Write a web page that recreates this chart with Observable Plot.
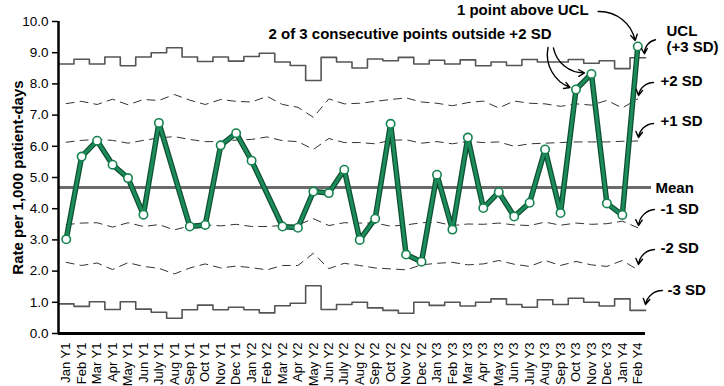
<!DOCTYPE html>
<html><head><meta charset="utf-8">
<script src="https://cdn.jsdelivr.net/npm/d3@7"></script>
<script src="https://cdn.jsdelivr.net/npm/@observablehq/plot@0.6"></script>
<style>body{margin:0;background:#fff} #chart{width:724px;height:386px}</style>
</head><body><div id="chart"></div>
<script>
const months = ["Jan Y1","Feb Y1","Mar Y1","Apr Y1","May Y1","Jun Y1","July Y1","Aug Y1","Sep Y1","Oct Y1","Nov Y1","Dec Y1",
  "Jan Y2","Feb Y2","Mar Y2","Apr Y2","May Y2","Jun Y2","July Y2","Aug Y2","Sep Y2","Oct Y2","Nov Y2","Dec Y2",
  "Jan Y3","Feb Y3","Mar Y3","Apr Y3","May Y3","Jun Y3","July Y3","Aug Y3","Sep Y3","Oct Y3","Nov Y3","Dec Y3",
  "Jan Y4","Feb Y4"];
const rate = [3.02,5.67,6.18,5.41,4.98,3.81,6.75,null,3.43,3.48,6.03,6.42,
  5.54,null,3.43,3.39,4.55,4.50,5.25,3.00,3.68,6.72,2.53,2.30,
  5.09,3.33,6.28,4.02,4.53,3.75,4.19,5.90,3.86,7.82,8.32,4.17,
  3.80,9.20];
const ucl = [8.64,8.79,8.64,8.86,8.58,8.86,9.00,9.16,8.86,8.72,8.86,8.73,
  8.88,8.98,8.70,8.59,8.11,8.85,8.70,8.51,8.80,8.74,8.85,8.64,
  8.76,8.64,8.77,8.58,8.70,8.59,8.78,8.70,8.70,8.78,8.66,8.74,
  8.49,8.84];
const plus2 = [7.37,7.44,7.34,7.51,7.33,7.50,7.47,7.66,7.48,7.34,7.50,7.44,
  7.42,7.60,7.34,7.25,6.93,7.52,7.36,7.38,7.44,7.50,7.55,7.42,
  7.38,7.30,7.40,7.45,7.23,7.45,7.38,7.36,7.28,7.36,7.32,7.47,
  7.23,7.52];
const plus1 = [6.13,6.19,6.22,6.19,6.10,6.19,6.27,6.31,6.22,6.15,6.15,6.20,
  6.22,6.30,6.18,6.15,5.90,6.25,6.12,6.12,6.08,6.19,6.21,6.10,
  6.15,6.08,6.16,6.12,6.14,6.00,6.08,6.10,6.12,6.14,6.14,6.14,
  6.16,6.17];
const minus1 = [3.49,3.54,3.55,3.41,3.55,3.43,3.49,3.32,3.45,3.48,3.45,3.50,
  3.43,3.43,3.46,3.48,3.68,3.46,3.55,3.54,3.54,3.44,3.48,3.55,
  3.57,3.46,3.51,3.50,3.54,3.48,3.46,3.57,3.47,3.54,3.50,3.52,
  3.60,3.39];
const minus2 = [2.28,2.18,2.26,2.05,2.27,2.15,2.09,1.91,2.10,2.23,2.10,2.16,
  2.11,2.04,2.18,2.18,2.57,2.08,2.25,2.18,2.10,2.07,2.04,2.20,
  2.25,2.28,2.20,2.23,2.34,2.22,2.15,2.34,2.18,2.31,2.20,2.15,
  2.34,2.04];
const lcl = [0.95,0.87,1.02,0.77,1.02,0.78,0.68,0.49,0.76,0.91,0.76,0.84,
  0.76,0.66,0.89,0.97,1.53,0.77,0.93,1.00,0.82,0.74,0.65,1.00,
  0.90,1.00,0.88,1.00,1.11,0.93,0.84,1.08,0.93,1.13,1.00,0.88,
  1.11,0.74];
const mean = 4.68;
const yTicks = [0,1,2,3,4,5,6,7,8,9,10];

// layout
const W = 724, H = 386, mL = 58, mR = 79, mT = 21, mB = 53;
const n = months.length;
const kx = (W - mL - mR) / n, ky = (H - mT - mB) / 10;
const last = n - 1;
// convert a pixel offset from an anchor (in data space) to data coordinates
const ox = (x, px) => x + px / kx;
const oy = (y, py) => y - py / ky;

const pts = rate.map((v, i) => ({i, v})).filter(d => d.v != null);
const steps = arr => arr.flatMap((v, i) => [{x: i - 0.5, y: v}, {x: i + 0.5, y: v}]);
const seq = arr => arr.map((v, i) => ({x: i, y: v}));

// side labels anchored to end of each line (x = right edge)
const edge = last + 0.5;
const side = [
  {t: "UCL\n(+3 SD)", v: ucl[last], tx: 21, ty: -19, a: [10, -18, -1, -4]},
  {t: "+2 SD", v: plus2[last], tx: 15, ty: -18.4, a: [8, -16.4, -7, -3.4]},
  {t: "+1 SD", v: plus1[last], tx: 15, ty: -19.8, a: [8, -17.5, -7, -3.5]},
  {t: "Mean", v: mean, tx: 10, ty: 0, a: null},
  {t: "-1 SD", v: minus1[last], tx: 15, ty: -19.2, a: [9, -18.2, -7, -2.2]},
  {t: "-2 SD", v: minus2[last], tx: 15, ty: -21.7, a: [9, -20.4, -7, -5.4]},
  {t: "-3 SD", v: lcl[last], tx: 22, ty: -20.9, a: [17, -19.9, 0, -5.9]}
];
const sideText = side.map(d => ({x: ox(edge, d.tx), y: oy(d.v, d.ty), t: d.t}));
const sideArrows = side.filter(d => d.a).map(d => ({
  x1: ox(edge, d.a[0]), y1: oy(d.v, d.a[1]), x2: ox(edge, d.a[2]), y2: oy(d.v, d.a[3])}));

// top notes anchored to the flagged points
const iUCL = last, i2a = 33, i2b = 34;
const noteText = [
  {x: ox(iUCL, -115), y: oy(rate[iUCL], -36), t: "1 point above UCL"},
  {x: ox(i2a, -166), y: oy(rate[i2a], -55.5), t: "2 of 3 consecutive points outside +2 SD"}
];
const noteArrowsPos = [
  {x1: ox(iUCL, -39.6), y1: oy(rate[iUCL], -35), x2: ox(iUCL, -2.6), y2: oy(rate[iUCL], -6)}
];
const noteArrowsNeg = [
  {x1: ox(i2a, -28), y1: oy(rate[i2a], -42), x2: ox(i2a, -6), y2: oy(rate[i2a], -2)},
  {x1: ox(i2b, -38), y1: oy(rate[i2b], -26), x2: ox(i2b, -7), y2: oy(rate[i2b], -1)}
];

const font = "Arial, 'Liberation Sans', sans-serif";
const chart = Plot.plot({
  width: W, height: H, marginLeft: mL, marginRight: mR, marginTop: mT, marginBottom: mB,
  x: {type: "linear", domain: [-0.5, n - 0.5]},
  y: {domain: [0, 10]},
  style: {fontFamily: font, fontSize: "13px", color: "#000", background: "#fff", overflow: "visible"},
  marks: [
    Plot.axisY({ticks: yTicks, tickFormat: d3.format(".1f"), tickSize: 6, tickPadding: 4, label: null, strokeWidth: 1.5, fontSize: 13.5}),
    Plot.axisX({ticks: d3.range(n), tickFormat: i => months[i], tickRotate: -90, tickSize: 0, tickPadding: 9, label: null, fontSize: 13}),
    Plot.text(["Rate per 1,000 patient-days"], {frameAnchor: "left", dx: -40, rotate: -90, textAnchor: "middle", fontWeight: "bold", fontSize: 15, text: d => d}),
    // limits
    Plot.line(steps(ucl), {x: "x", y: "y", stroke: "#555", strokeWidth: 1.6}),
    Plot.line(steps(lcl), {x: "x", y: "y", stroke: "#555", strokeWidth: 1.6}),
    Plot.line(seq(plus2), {x: "x", y: "y", stroke: "#333", strokeWidth: 1, strokeDasharray: "8,6"}),
    Plot.line(seq(plus1), {x: "x", y: "y", stroke: "#333", strokeWidth: 1, strokeDasharray: "8,6"}),
    Plot.line(seq(minus1), {x: "x", y: "y", stroke: "#333", strokeWidth: 1, strokeDasharray: "8,6"}),
    Plot.line(seq(minus2), {x: "x", y: "y", stroke: "#333", strokeWidth: 1, strokeDasharray: "8,6"}),
    Plot.ruleY([mean], {x1: -0.5, x2: ox(edge, 6), stroke: "#6b6b6b", strokeWidth: 3}),
    // axes lines
    Plot.ruleX([-0.5], {stroke: "#000", strokeWidth: 2.5}),
    Plot.ruleY([0], {stroke: "#000", strokeWidth: 3}),
    // data
    Plot.line(pts, {x: "i", y: "v", stroke: "#0f4f32", strokeWidth: 5.5}),
    Plot.line(pts, {x: "i", y: "v", stroke: "#1b8c5a", strokeWidth: 3}),
    Plot.dot(pts, {x: "i", y: "v", r: 4.2, fill: "#fff", stroke: "#15834f", strokeWidth: 1.6}),
    // annotations
    Plot.text(sideText, {x: "x", y: "y", text: "t", textAnchor: "start", fontWeight: "bold", fontSize: 15, lineHeight: 1.1}),
    Plot.arrow(sideArrows, {x1: "x1", y1: "y1", x2: "x2", y2: "y2", bend: -40, stroke: "#000", strokeWidth: 1.4, headLength: 7}),
    Plot.text(noteText, {x: "x", y: "y", text: "t", fontWeight: "bold", fontSize: 15}),
    Plot.arrow(noteArrowsPos, {x1: "x1", y1: "y1", x2: "x2", y2: "y2", bend: 40, stroke: "#000", strokeWidth: 1.4, headLength: 7}),
    Plot.arrow(noteArrowsNeg, {x1: "x1", y1: "y1", x2: "x2", y2: "y2", bend: -40, stroke: "#000", strokeWidth: 1.4, headLength: 7})
  ]
});
document.getElementById("chart").appendChild(chart);
</script>
</body></html>
